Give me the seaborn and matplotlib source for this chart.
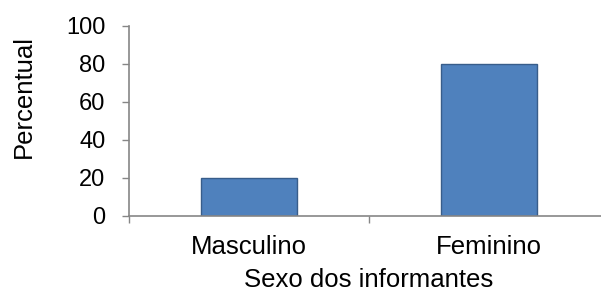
import pandas as pd
import matplotlib.pyplot as plt
import seaborn as sns

sns.set_style('white')
plt.rcParams['font.family'] = ['Liberation Sans', 'DejaVu Sans']
plt.rcParams['text.color'] = 'black'
plt.rcParams['axes.labelcolor'] = 'black'
plt.rcParams['xtick.color'] = 'black'
plt.rcParams['ytick.color'] = 'black'

# dados
categorias = ['Masculino', 'Feminino']
percentuais = [20, 80]
y_ticks = [0, 20, 40, 60, 80, 100]

df = pd.DataFrame({'sexo': categorias, 'pct': percentuais})

fig = plt.figure(figsize=(6.01, 2.95), dpi=100)
ax = fig.add_axes([129 / 601, 1 - 216 / 295, 480 / 601, 190 / 295])

sns.barplot(data=df, x='sexo', y='pct', ax=ax, width=0.4, color='#4F81BD',
            edgecolor='#385D8A', linewidth=1.0, saturation=1)

axis_grey = '#868686'
fs_tick = 17
fs_lab = 18.5
ax.set_xlim(-0.5, 1.5)
ax.set_ylim(0, 100)
ax.set_yticks(y_ticks)
ax.tick_params(axis='y', left=True, labelsize=fs_tick, length=5, width=1,
               color=axis_grey, labelcolor='black', pad=12)

# rótulos das categorias em ticks menores; traços entre categorias
ax.set_xticks([-0.5, 0.5, 1.5])
ax.set_xticklabels([])
ax.set_xticks([0, 1], minor=True)
ax.set_xticklabels(categorias, minor=True)
ax.tick_params(axis='x', which='major', bottom=True, length=5, width=1, color=axis_grey)
ax.tick_params(axis='x', which='minor', bottom=True, length=0, labelsize=fs_lab,
               labelcolor='black', pad=14)

for s in ['top', 'right']:
    ax.spines[s].set_visible(False)
for s in ['left', 'bottom']:
    ax.spines[s].set_color(axis_grey)
    ax.spines[s].set_linewidth(1.2)

ax.set_xlabel('Sexo dos informantes', fontsize=fs_lab, labelpad=6)
ax.set_ylabel('Percentual', fontsize=fs_lab)
ax.yaxis.set_label_coords(-0.195, 0.63)

plt.savefig('out.png', dpi=100)
plt.close()
